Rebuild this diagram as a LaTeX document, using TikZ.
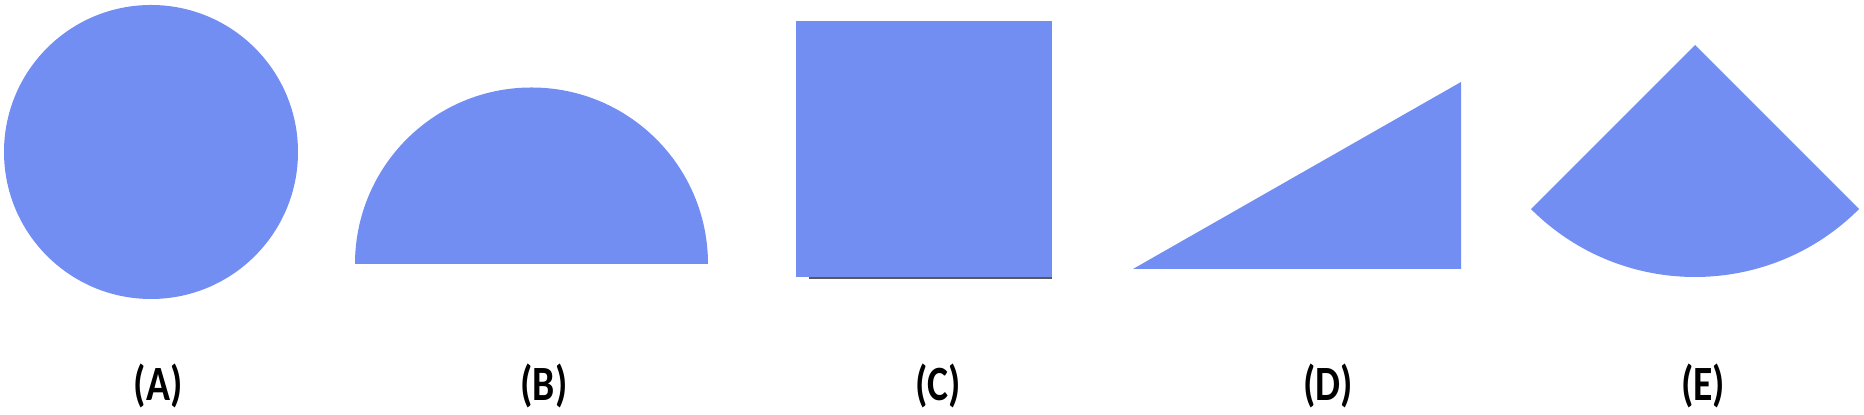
\documentclass[tikz,border=0pt]{standalone}
\usepackage{fontspec}
\setmainfont{Carlito}
\usepackage{tikz}
\definecolor{shapeblue}{RGB}{114,142,242}

\begin{document}
\begin{tikzpicture}[x=0.5pt,y=0.5pt,
    shapefill/.style={fill=shapeblue},
    lbl/.style={font=\fontsize{22}{26}\selectfont\bfseries,xscale=0.9,yscale=1.12,transform shape}]
    \useasboundingbox (0,0) rectangle (1864,415);

    % (A) circle
    \fill[shapefill] (151,263) circle[radius=147];
    \node[lbl] (la) at (158,29) {(A)};

    % (B) half disc
    \fill[shapefill] (708,151) arc[start angle=0,end angle=180,radius=176.5] -- cycle;
    \node[lbl] (lb) at (544,29) {(B)};

    % (C) square, with a thin shadow below
    \draw[gray!70!black,line width=1.2] (809,137) -- (1052,137);
    \fill[shapefill] (796,138) rectangle (1052,394);
    \node[lbl] (lc) at (938,29) {(C)};

    % (D) right triangle
    \fill[shapefill] (1133,146) -- (1461,146) -- (1461,333) -- cycle;
    \node[lbl] (ld) at (1328,29) {(D)};

    % (E) sector
    \fill[shapefill] (1695,370) -- ++(225:232) arc[start angle=225,end angle=315,radius=232] -- cycle;
    \node[lbl] (le) at (1703,29) {(E)};
  \end{tikzpicture}
\end{document}
